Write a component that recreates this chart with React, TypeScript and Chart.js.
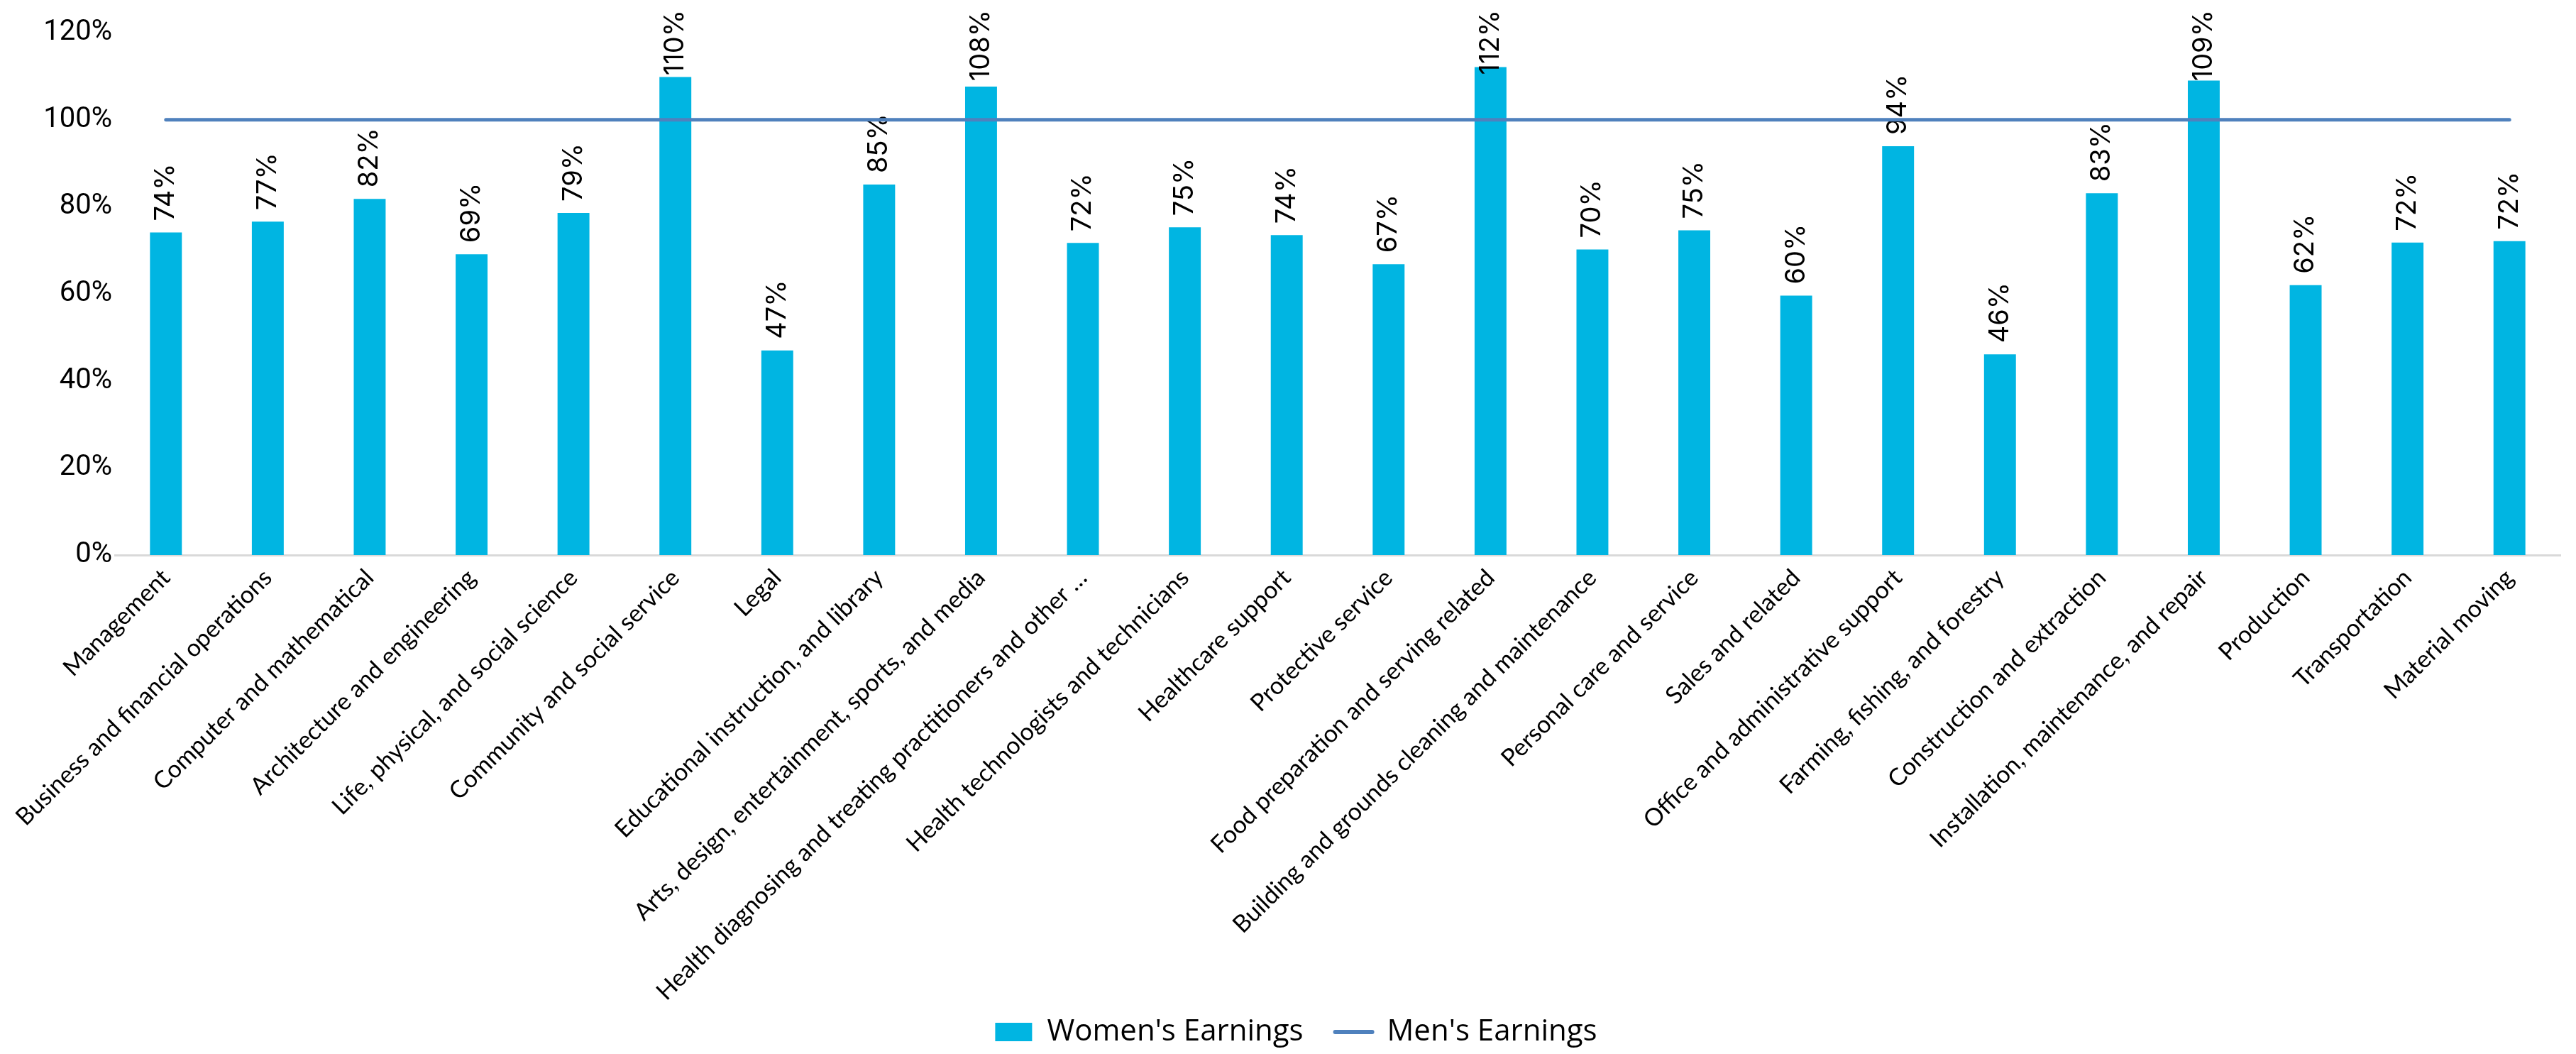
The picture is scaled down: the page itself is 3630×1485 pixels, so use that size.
import React, { useEffect, useRef } from "react";
import { Chart, registerables } from "chart.js";

Chart.register(...registerables);

const categories: string[] = [
  "Management",
  "Business and financial operations",
  "Computer and mathematical",
  "Architecture and engineering",
  "Life, physical, and social science",
  "Community and social service",
  "Legal",
  "Educational instruction, and library",
  "Arts, design, entertainment, sports, and media",
  "Health diagnosing and treating practitioners and other …",
  "Health technologists and technicians",
  "Healthcare support",
  "Protective service",
  "Food preparation and serving related",
  "Building and grounds cleaning and maintenance",
  "Personal care and service",
  "Sales and related",
  "Office and administrative support",
  "Farming, fishing, and forestry",
  "Construction and extraction",
  "Installation, maintenance, and repair",
  "Production",
  "Transportation",
  "Material moving",
];

const womensEarnings: number[] = [
  74.1, 76.6, 81.8, 69.1, 78.6, 109.8, 47.0, 85.1, 107.6, 71.7, 75.3, 73.5,
  66.8, 112.1, 70.2, 74.6, 59.6, 93.9, 46.1, 83.1, 109.0, 62.0, 71.8, 72.1,
];

const mensEarnings: number[] = [
  100, 100, 100, 100, 100, 100, 100, 100, 100, 100, 100, 100,
  100, 100, 100, 100, 100, 100, 100, 100, 100, 100, 100, 100,
];

const yTicks: number[] = [0, 20, 40, 60, 80, 100, 120];

const BAR_COLOR = "#00B5E2";
const LINE_COLOR = "#4F81BD";

const noClipXLabels = {
  id: "noClipXLabels",
  beforeDraw(chart: any) {
    const x = chart.scales.x;
    if (x) x._computeLabelArea = () => undefined;
  },
};

const barLabelPlugin = {
  id: "barLabels",
  afterDatasetDraw(chart: any, args: any) {
    if (args.index !== 0) return;
    const meta = chart.getDatasetMeta(0);
    const ctx = chart.ctx;
    ctx.save();
    ctx.font = "38px Inter, 'Liberation Sans', Arial, sans-serif";
    ctx.fillStyle = "#000000";
    ctx.textAlign = "left";
    ctx.textBaseline = "middle";
    meta.data.forEach((bar: any, i: number) => {
      const text = Math.round(womensEarnings[i]) + "%";
      const w = ctx.measureText(text).width;
      const anchorY = Math.max(bar.y - 16, 14 + w);
      ctx.save();
      ctx.translate(bar.x, anchorY);
      ctx.rotate(-Math.PI / 2);
      ctx.fillText(text, 0, 0);
      ctx.restore();
    });
    ctx.restore();
  },
};

export default function App() {
  const canvasRef = useRef<HTMLCanvasElement | null>(null);

  useEffect(() => {
    if (!canvasRef.current) return;
    const chart = new Chart(canvasRef.current, {
      type: "bar",
      data: {
        labels: categories,
        datasets: [
          {
            type: "bar",
            label: "Women's Earnings",
            data: womensEarnings,
            backgroundColor: BAR_COLOR,
            categoryPercentage: 1,
            barPercentage: 0.313,
            order: 1,
          },
          {
            type: "line",
            label: "Men's Earnings",
            data: mensEarnings,
            borderColor: LINE_COLOR,
            backgroundColor: LINE_COLOR,
            borderWidth: 5,
            borderCapStyle: "round",
            pointRadius: 0,
            pointHoverRadius: 0,
            fill: false,
            order: 0,
          } as any,
        ],
      },
      options: {
        responsive: true,
        maintainAspectRatio: false,
        animation: false,
        layout: { padding: { top: 46, right: 22, left: 45, bottom: 0 } },
        plugins: {
          tooltip: { enabled: false },
          legend: {
            position: "bottom",
            labels: {
              color: "#000000",
              font: { family: "'Open Sans', sans-serif", size: 42 },
              usePointStyle: true,
              pointStyleWidth: 52,
              boxHeight: 26,
              padding: 45,
              generateLabels: () => [
                {
                  text: "Women's Earnings",
                  fillStyle: BAR_COLOR,
                  strokeStyle: BAR_COLOR,
                  lineWidth: 0,
                  pointStyle: "rect",
                  datasetIndex: 0,
                  hidden: false,
                } as any,
                {
                  text: "Men's Earnings",
                  fillStyle: LINE_COLOR,
                  strokeStyle: LINE_COLOR,
                  lineWidth: 6,
                  lineCap: "round",
                  pointStyle: "line",
                  datasetIndex: 1,
                  hidden: false,
                } as any,
              ],
            },
          },
        },
        scales: {
          x: {
            grid: { display: false, drawTicks: false },
            border: { display: true, color: "#D9D9D9", width: 3 },
            ticks: {
              autoSkip: false,
              maxRotation: 45,
              minRotation: 45,
              padding: 12,
              color: "#000000",
              font: { family: "Lato, sans-serif", size: 34 },
            },
            afterFit: (scale: any) => {
              scale.height = 606;
            },
          },
          y: {
            min: 0,
            max: 120,
            afterBuildTicks: (scale: any) => {
              scale.ticks = yTicks.map((v) => ({ value: v }));
            },
            grid: { display: false, drawTicks: false },
            border: { display: false },
            ticks: {
              padding: 4,
              color: "#000000",
              font: { family: "Roboto, sans-serif", size: 40 },
              callback: (v: any) => v + "%",
            },
            afterFit: (scale: any) => {
              scale.width = 117;
            },
          },
        },
      },
      plugins: [noClipXLabels, barLabelPlugin],
    });
    return () => chart.destroy();
  }, []);

  return (
    <div style={{ position: "absolute", left: 0, top: 0, width: 3630, height: 1485, background: "#ffffff" }}>
      <canvas ref={canvasRef} />
    </div>
  );
}
